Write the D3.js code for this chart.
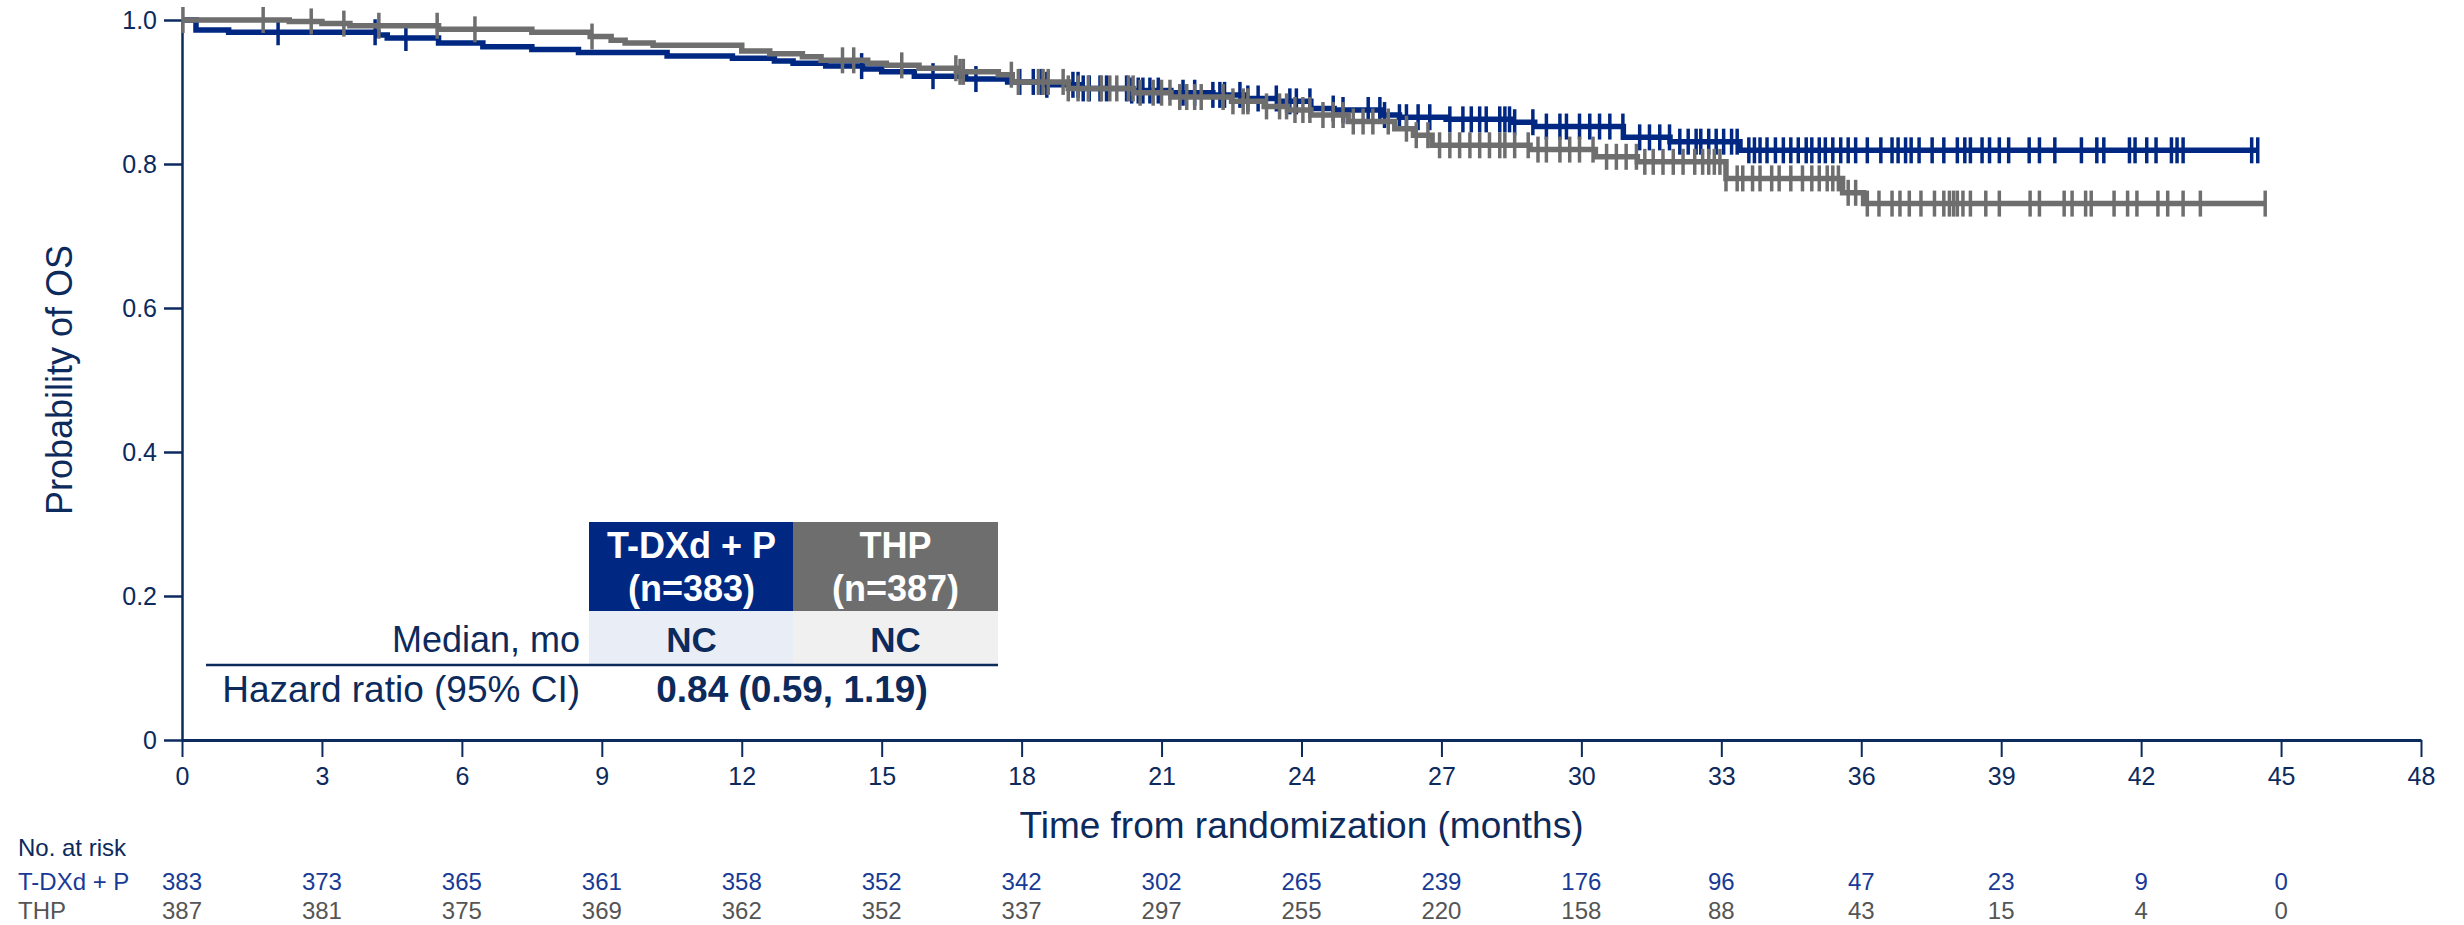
<!DOCTYPE html>
<html>
<head>
<meta charset="utf-8">
<script src="https://cdn.jsdelivr.net/npm/d3@7"></script>
<style>
  body { margin: 0; background: #fff; }
  text { font-family: "Liberation Sans", Arial, sans-serif; }
</style>
</head>
<body>
<script>
// ---- data ----
var xTicks = [0, 3, 6, 9, 12, 15, 18, 21, 24, 27, 30, 33, 36, 39, 42, 45, 48];
var yTicks = [0, 0.2, 0.4, 0.6, 0.8, 1.0];
var yTickLabels = ["0", "0.2", "0.4", "0.6", "0.8", "1.0"];

// step points [month, survival] after each drop
var tdxdSteps = [[0,1.0],[0.3,0.986],[1.0,0.983],[4.2,0.979],[4.4,0.975],[5.5,0.968],[6.45,0.963],[7.5,0.959],[8.5,0.955],[10.4,0.950],[11.8,0.947],[12.7,0.943],[13.1,0.940],[13.8,0.936],[14.6,0.932],[15.0,0.928],[15.7,0.922],[16.8,0.918],[17.7,0.914],[18.5,0.910],[19.3,0.905],[20.3,0.902],[21.2,0.899],[22.1,0.896],[22.8,0.891],[23.5,0.887],[24.2,0.877],[24.7,0.875],[25.7,0.868],[26.1,0.865],[27.1,0.862],[28.5,0.858],[29.0,0.852],[30.9,0.837],[31.9,0.831],[33.4,0.819]];
var tdxdEnd = 44.5;
var thpSteps = [[0,1.0],[2.3,0.998],[3.0,0.995],[3.6,0.992],[5.5,0.987],[7.5,0.983],[8.75,0.977],[9.2,0.972],[9.5,0.968],[10.1,0.965],[12.0,0.957],[12.6,0.953],[13.3,0.949],[13.7,0.944],[14.7,0.940],[15.1,0.937],[15.8,0.933],[16.6,0.928],[17.5,0.924],[17.8,0.914],[19.0,0.905],[20.4,0.899],[21.2,0.893],[22.5,0.887],[23.2,0.880],[23.7,0.875],[24.2,0.868],[25.0,0.859],[26.0,0.849],[26.4,0.840],[26.8,0.826],[28.9,0.820],[30.3,0.810],[31.2,0.803],[33.1,0.780],[35.6,0.760],[36.05,0.745]];
var thpEnd = 44.66;

// censoring times (months)
var tdxdCensor = [2.06,4.14,4.80,14.57,16.1,17.02,17.96,18.25,18.43,18.54,19.1,19.21,19.32,19.45,19.68,19.82,20.25,20.36,20.5,20.6,20.75,20.93,21.46,21.71,
  22.1,22.25,22.35,22.68,22.85,23.07,23.46,23.75,23.89,24.18,24.68,24.89,25.43,25.68,25.78,26.1,26.25,26.5,26.75,27.18,27.46,27.64,27.82,27.96,28.25,28.36,28.46,28.57,28.96,29.25,29.54,29.68,29.96,30.18,30.39,30.61,30.89,31.25,31.46,31.68,31.89,32.11,32.29,32.46,
  32.56,32.73,32.89,33.05,33.22,33.34,33.59,33.71,33.83,33.98,34.16,34.33,34.49,34.65,34.82,34.94,35.1,35.23,35.39,35.56,35.72,35.88,36.13,36.42,36.66,36.79,36.95,37.07,37.24,37.52,37.77,38.06,38.22,38.34,38.59,38.75,38.96,39.16,39.6,39.82,40.15,40.72,41.05,41.2,41.75,41.87,42.12,42.32,42.65,42.77,42.9,44.37,44.5];
var thpCensor = [0.02,1.74,2.77,3.47,4.22,5.47,6.28,8.79,14.16,14.4,15.43,16.59,16.68,16.75,17.78,17.93,18.36,18.46,18.57,18.89,19.0,19.21,19.43,19.71,19.89,20.04,20.29,20.39,20.54,20.82,21.0,21.18,21.39,21.54,21.71,
  21.85,22.32,22.53,22.75,22.85,23.25,23.53,23.68,23.86,24.03,24.18,24.46,24.68,24.89,25.11,25.32,25.53,25.86,26.25,26.46,26.71,26.96,27.18,27.39,27.61,27.82,28.03,28.25,28.36,28.57,28.86,29.07,29.25,29.54,29.75,29.96,30.25,30.54,30.75,30.96,31.18,31.36,31.54,31.75,31.97,32.18,32.43,
  32.6,32.73,32.85,32.97,33.1,33.34,33.46,33.67,33.83,34.08,34.24,34.49,34.74,34.94,35.1,35.27,35.39,35.51,35.72,35.88,36.13,36.38,36.66,36.83,37.03,37.28,37.57,37.77,37.89,37.98,38.06,38.18,38.34,38.67,38.96,39.62,39.82,40.35,40.52,40.81,40.93,41.42,41.71,41.91,42.36,42.57,42.9,43.27,44.66];

var riskTimes = [0, 3, 6, 9, 12, 15, 18, 21, 24, 27, 30, 33, 36, 39, 42, 45];
var tdxdRisk = [383, 373, 365, 361, 358, 352, 342, 302, 265, 239, 176, 96, 47, 23, 9, 0];
var thpRisk = [387, 381, 375, 369, 362, 352, 337, 297, 255, 220, 158, 88, 43, 15, 4, 0];

var armNames = ["T-DXd + P", "THP"];
var armN = ["(n=383)", "(n=387)"];
var medians = ["NC", "NC"];
var hrText = "0.84 (0.59, 1.19)";

// ---- drawing ----
var navy = "#0c2a5c", blue = "#002882", gray = "#6e6e6e";

var svg = d3.select("body").append("svg")
  .attr("width", 2464)
  .attr("height", 925);

var x = d3.scaleLinear().domain([0, 48]).range([182, 2421]);
var y = d3.scaleLinear().domain([0, 1]).range([740, 20]);

// y axis
var yAxis = d3.axisLeft(y).tickValues(yTicks)
  .tickFormat(function(d, i) { return yTickLabels[i]; })
  .tickSize(18).tickPadding(7).tickSizeOuter(0);
var gy = svg.append("g").attr("transform", "translate(182,0)").call(yAxis);
gy.select(".domain").attr("stroke", navy).attr("stroke-width", 2.5);
gy.selectAll(".tick line").attr("stroke", navy).attr("stroke-width", 2.5);
gy.selectAll(".tick text").attr("fill", navy).style("font-size", "25px")
  .style("font-family", "'Liberation Sans', Arial, sans-serif");

// x axis
var xAxis = d3.axisBottom(x).tickValues(xTicks).tickSize(17).tickPadding(10).tickSizeOuter(0);
var gx = svg.append("g").attr("transform", "translate(0,740)").call(xAxis);
gx.select(".domain").attr("stroke", navy).attr("stroke-width", 3);
gx.selectAll(".tick line").attr("stroke", navy).attr("stroke-width", 2);
gx.selectAll(".tick text").attr("fill", navy).style("font-size", "25px")
  .style("font-family", "'Liberation Sans', Arial, sans-serif");

// axis titles
svg.append("text")
  .attr("transform", "translate(72," + y(0.5) + ") rotate(-90)")
  .attr("text-anchor", "middle")
  .attr("fill", navy)
  .style("font-size", "36px")
  .text("Probability of OS");

svg.append("text")
  .attr("x", (x(0) + x(48)) / 2)
  .attr("y", 838)
  .attr("text-anchor", "middle")
  .attr("fill", navy)
  .style("font-size", "37px")
  .text("Time from randomization (months)");

// KM curves
function stepValue(steps, t) {
  var s = steps[0][1];
  steps.forEach(function(p) { if (p[0] <= t) s = p[1]; });
  return s;
}

function drawArm(steps, end, censor, color) {
  var pts = steps.concat([[end, steps[steps.length - 1][1]]]);
  var line = d3.line()
    .x(function(d) { return x(d[0]); })
    .y(function(d) { return y(d[1]); })
    .curve(d3.curveStepAfter);
  svg.append("path")
    .datum(pts)
    .attr("d", line)
    .attr("fill", "none")
    .attr("stroke", color)
    .attr("stroke-width", 5.5);
  svg.append("g").selectAll("line")
    .data(censor)
    .enter().append("line")
    .attr("x1", function(d) { return x(d); })
    .attr("x2", function(d) { return x(d); })
    .attr("y1", function(d) { return y(stepValue(steps, d)) - 13; })
    .attr("y2", function(d) { return y(stepValue(steps, d)) + 13; })
    .attr("stroke", color)
    .attr("stroke-width", 3.5);
}

drawArm(tdxdSteps, tdxdEnd, tdxdCensor, blue);
drawArm(thpSteps, thpEnd, thpCensor, gray);

// summary table
var colX = [589, 793];
var colW = 205;
var headColors = [blue, gray];
var medBg = ["#e9edf5", "#f0f0f0"];

colX.forEach(function(cx, i) {
  svg.append("rect").attr("x", cx).attr("y", 522).attr("width", colW).attr("height", 89)
    .attr("fill", headColors[i]);
  svg.append("rect").attr("x", cx).attr("y", 611).attr("width", colW).attr("height", 53)
    .attr("fill", medBg[i]);
  svg.append("text").attr("x", cx + colW / 2).attr("y", 558)
    .attr("text-anchor", "middle").attr("fill", "#fff")
    .style("font-size", "36px").style("font-weight", "bold")
    .text(armNames[i]);
  svg.append("text").attr("x", cx + colW / 2).attr("y", 601)
    .attr("text-anchor", "middle").attr("fill", "#fff")
    .style("font-size", "36px").style("font-weight", "bold")
    .text(armN[i]);
  svg.append("text").attr("x", cx + colW / 2).attr("y", 652)
    .attr("text-anchor", "middle").attr("fill", navy)
    .style("font-size", "35px").style("font-weight", "bold")
    .text(medians[i]);
});

svg.append("text").attr("x", 580).attr("y", 652)
  .attr("text-anchor", "end").attr("fill", navy)
  .style("font-size", "36px")
  .text("Median, mo");

svg.append("line")
  .attr("x1", 206).attr("x2", 998)
  .attr("y1", 665).attr("y2", 665)
  .attr("stroke", navy).attr("stroke-width", 2.5);

svg.append("text").attr("x", 580).attr("y", 702)
  .attr("text-anchor", "end").attr("fill", navy)
  .style("font-size", "37px")
  .text("Hazard ratio (95% CI)");

svg.append("text").attr("x", 792).attr("y", 702)
  .attr("text-anchor", "middle").attr("fill", navy)
  .style("font-size", "37px").style("font-weight", "bold")
  .text(hrText);

// number at risk
svg.append("text").attr("x", 18).attr("y", 856)
  .attr("fill", navy).style("font-size", "24px")
  .text("No. at risk");

var riskRows = [
  { label: armNames[0], values: tdxdRisk, color: "#183a96", y: 890 },
  { label: armNames[1], values: thpRisk, color: "#555555", y: 919 }
];

riskRows.forEach(function(row) {
  svg.append("text").attr("x", 18).attr("y", row.y)
    .attr("fill", row.color).style("font-size", "24px")
    .text(row.label);
  svg.append("g").selectAll("text")
    .data(row.values)
    .enter().append("text")
    .attr("x", function(d, i) { return x(riskTimes[i]); })
    .attr("y", row.y)
    .attr("text-anchor", "middle")
    .attr("fill", row.color)
    .style("font-size", "24px")
    .text(function(d) { return d; });
});
</script>
</body>
</html>
